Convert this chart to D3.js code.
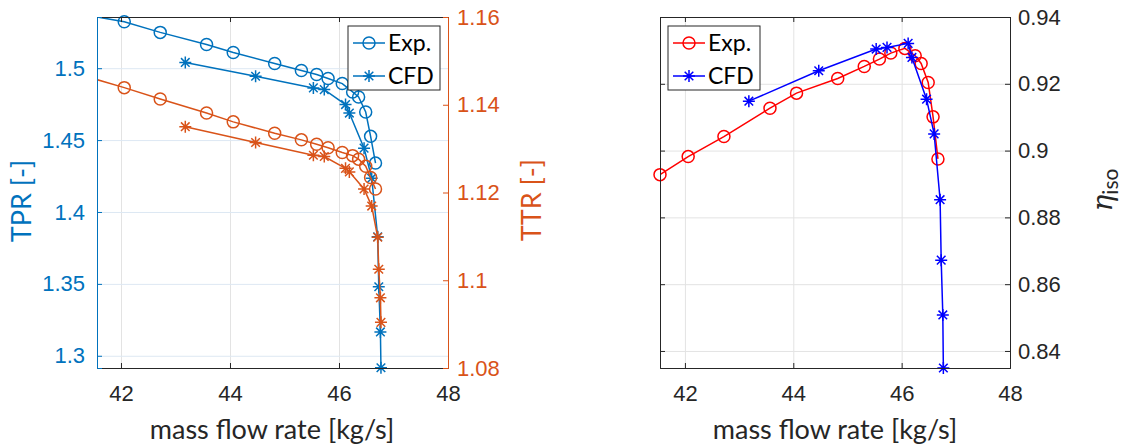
<!DOCTYPE html>
<html>
<head>
<meta charset="utf-8">
<script src="https://cdn.jsdelivr.net/npm/d3@7"></script>
<style>
  body { margin: 0; background: #fff; }
  svg { font-family: Lato, "Open Sans", sans-serif; }
</style>
</head>
<body>
<svg id="chart" width="1124" height="448"></svg>
<script>
// data
const xExp = [41.54, 42.06, 42.72, 43.57, 44.06, 44.82, 45.31, 45.59, 45.80, 46.06, 46.25, 46.36, 46.49, 46.58, 46.67];
const tprExp = [1.5358, 1.5323, 1.5249, 1.5165, 1.5109, 1.5033, 1.4984, 1.4956, 1.4928, 1.4893, 1.4835, 1.4800, 1.4695, 1.4526, 1.4340];
const ttrExp = [1.1458, 1.1439, 1.1413, 1.1381, 1.1361, 1.1335, 1.1320, 1.1310, 1.1302, 1.1291, 1.1284, 1.1276, 1.1260, 1.1234, 1.1208];
const etaExp = [0.8928, 0.8982, 0.9042, 0.9127, 0.9172, 0.9216, 0.9252, 0.9274, 0.9292, 0.9306, 0.9284, 0.9261, 0.9204, 0.9101, 0.8975];

const xCfd = [43.18, 44.47, 45.53, 45.73, 46.12, 46.19, 46.46, 46.60, 46.71, 46.73, 46.76, 46.77];
const tprCfd = [1.5040, 1.4944, 1.4863, 1.4851, 1.4747, 1.4688, 1.4444, 1.4235, 1.3828, 1.3480, 1.3166, 1.2917];
const ttrCfd = [1.1350, 1.1314, 1.1285, 1.1282, 1.1255, 1.1247, 1.1208, 1.1169, 1.1098, 1.1025, 1.0960, 1.0904];
const etaCfd = [0.9148, 0.9239, 0.9304, 0.9309, 0.9321, 0.9279, 0.9154, 0.9050, 0.8853, 0.8672, 0.8508, 0.8349];

const xTicks = [42, 44, 46, 48];
const tprTicks = [1.3, 1.35, 1.4, 1.45, 1.5];
const ttrTicks = [1.08, 1.1, 1.12, 1.14, 1.16];
const etaTicks = [0.84, 0.86, 0.88, 0.9, 0.92, 0.94];
const legendLabels = ["Exp.", "CFD"];

const blue = "#0072BD", orange = "#D95319", axisGray = "#262626";
const plotTop = 17, plotBottom = 368;
const tickFont = 22, labelFont = 27;
const fmt = d3.format("~g");

let svg = d3.select("#chart");

// left panel limits start just right of the first measured point, right panel on it
let xLeft = d3.scaleLinear().domain([41.56, 48]).range([97, 448]);
let xRight = d3.scaleLinear().domain([41.54, 48]).range([660, 1010]);
let yTpr = d3.scaleLinear().domain([1.2915, 1.5356]).range([plotBottom, plotTop]);
let yTtr = d3.scaleLinear().domain([1.08, 1.16]).range([plotBottom, plotTop]);
let yEta = d3.scaleLinear().domain([0.8349, 0.94]).range([plotBottom, plotTop]);

let star = "M-6,0H6M0,-6V6M-4.3,-4.3L4.3,4.3M-4.3,4.3L4.3,-4.3";

function clip(id, x0, x1) {
    svg.append("clipPath").attr("id", id)
        .append("rect").attr("x", x0).attr("y", plotTop)
        .attr("width", x1 - x0).attr("height", plotBottom - plotTop);
}

function grid(g, xs, ys, ticksX, ticksY, hColor) {
    g.append("g").attr("transform", "translate(0," + plotBottom + ")")
        .call(d3.axisBottom(xs).tickValues(ticksX).tickSize(-(plotBottom - plotTop)).tickFormat(""))
        .call(a => a.select(".domain").remove())
        .selectAll("line").attr("stroke", "#e3e3e3");
    g.append("g").attr("transform", "translate(" + xs.range()[0] + ",0)")
        .call(d3.axisLeft(ys).tickValues(ticksY).tickSize(-(xs.range()[1] - xs.range()[0])).tickFormat(""))
        .call(a => a.select(".domain").remove())
        .selectAll("line").attr("stroke", hColor);
}

function series(g, xs, ys, xv, yv, color, marker, clipId) {
    let pts = xv.map((d, i) => [d, yv[i]]);
    g.append("path")
        .attr("clip-path", "url(#" + clipId + ")")
        .attr("d", d3.line().x(d => xs(d[0])).y(d => ys(d[1]))(pts))
        .attr("fill", "none").attr("stroke", color).attr("stroke-width", 1.5);
    // markers whose centre falls outside the limits are not drawn
    let dy = ys.domain(), dx = xs.domain();
    let inside = pts.filter(d => d[1] >= dy[0] - 1e-6 && d[1] <= dy[1] + 1e-6
        && d[0] >= dx[0] - 1e-6 && d[0] <= dx[1] + 1e-6);
    let m = g.append("g").selectAll("g").data(inside).join("g")
        .attr("transform", d => "translate(" + xs(d[0]) + "," + ys(d[1]) + ")");
    if (marker == "o") {
        m.append("circle").attr("r", 6).attr("fill", "none")
            .attr("stroke", color).attr("stroke-width", 1.5);
    } else {
        m.append("path").attr("d", star).attr("fill", "none")
            .attr("stroke", color).attr("stroke-width", 1.5);
    }
}

function styleAxis(a, color) {
    a.select(".domain").attr("stroke", color).attr("stroke-width", 1);
    a.selectAll(".tick line").attr("stroke", color);
    a.selectAll("text").attr("fill", color).attr("font-size", tickFont).attr("font-family", null);
}

function legend(g, x0, y0, colors, markers) {
    g.append("rect").attr("x", x0).attr("y", y0).attr("width", 92).attr("height", 64)
        .attr("fill", "#fff").attr("stroke", axisGray).attr("stroke-width", 1);
    legendLabels.forEach((lab, i) => {
        let cy = y0 + 17 + i * 33;
        g.append("line").attr("x1", x0 + 5).attr("x2", x0 + 37).attr("y1", cy).attr("y2", cy)
            .attr("stroke", colors[i]).attr("stroke-width", 1.5);
        let mk = g.append("g").attr("transform", "translate(" + (x0 + 21) + "," + cy + ")");
        if (markers[i] == "o") mk.append("circle").attr("r", 6).attr("fill", "none").attr("stroke", colors[i]).attr("stroke-width", 1.5);
        else mk.append("path").attr("d", star).attr("fill", "none").attr("stroke", colors[i]).attr("stroke-width", 1.5);
        g.append("text").attr("x", x0 + 40).attr("y", cy).attr("dy", "0.36em")
            .attr("font-size", 23).attr("fill", "#000").text(lab);
    });
}

// ---------- left panel ----------
clip("clipL", 97, 448);
let left = svg.append("g");
grid(left, xLeft, yTpr, [42, 44, 46], tprTicks, "#dde8f3");

series(left, xLeft, yTpr, xExp, tprExp, blue, "o", "clipL");
series(left, xLeft, yTpr, xCfd, tprCfd, blue, "*", "clipL");
series(left, xLeft, yTtr, xExp, ttrExp, orange, "o", "clipL");
series(left, xLeft, yTtr, xCfd, ttrCfd, orange, "*", "clipL");

left.append("g").attr("transform", "translate(0," + plotTop + ")")
    .call(d3.axisTop(xLeft).tickValues(xTicks).tickSize(-5).tickFormat(""))
    .call(a => styleAxis(a, axisGray));
left.append("g").attr("transform", "translate(0," + plotBottom + ")")
    .call(d3.axisBottom(xLeft).tickValues(xTicks).tickSize(-5).tickPadding(17).tickFormat(fmt))
    .call(a => styleAxis(a, axisGray));
left.append("g").attr("transform", "translate(97,0)")
    .call(d3.axisLeft(yTpr).tickValues(tprTicks).tickSize(-5).tickPadding(12).tickFormat(fmt))
    .call(a => styleAxis(a, blue));
left.append("g").attr("transform", "translate(448,0)")
    .call(d3.axisRight(yTtr).tickValues(ttrTicks).tickSize(-5).tickPadding(9).tickFormat(fmt))
    .call(a => styleAxis(a, orange));

legend(left, 348, 26, [blue, blue], ["o", "*"]);

left.append("text").attr("transform", "translate(31,201) rotate(-90)")
    .attr("text-anchor", "middle").attr("font-size", labelFont).attr("fill", blue).text("TPR [-]");
left.append("text").attr("transform", "translate(541,200) rotate(-90)")
    .attr("text-anchor", "middle").attr("font-size", labelFont).attr("fill", orange).text("TTR [-]");
left.append("text").attr("x", 272).attr("y", 439)
    .attr("text-anchor", "middle").attr("font-size", labelFont).attr("fill", axisGray).text("mass flow rate [kg/s]");

// ---------- right panel ----------
clip("clipR", 660, 1010);
let right = svg.append("g");
grid(right, xRight, yEta, [42, 44, 46], etaTicks, "#e3e3e3");

series(right, xRight, yEta, xExp, etaExp, "#ff0000", "o", "clipR");
series(right, xRight, yEta, xCfd, etaCfd, "#0000ff", "*", "clipR");

right.append("g").attr("transform", "translate(0," + plotTop + ")")
    .call(d3.axisTop(xRight).tickValues(xTicks).tickSize(-5).tickFormat(""))
    .call(a => styleAxis(a, axisGray));
right.append("g").attr("transform", "translate(0," + plotBottom + ")")
    .call(d3.axisBottom(xRight).tickValues(xTicks).tickSize(-5).tickPadding(17).tickFormat(fmt))
    .call(a => styleAxis(a, axisGray));
right.append("g").attr("transform", "translate(660,0)")
    .call(d3.axisLeft(yEta).tickValues(etaTicks).tickSize(-5).tickFormat(""))
    .call(a => styleAxis(a, axisGray));
right.append("g").attr("transform", "translate(1010,0)")
    .call(d3.axisRight(yEta).tickValues(etaTicks).tickSize(-5).tickPadding(8).tickFormat(fmt))
    .call(a => styleAxis(a, axisGray));

legend(right, 668, 26, ["#ff0000", "#0000ff"], ["o", "*"]);

let eta = right.append("text").attr("transform", "translate(1112,190) rotate(-90)")
    .attr("text-anchor", "middle").attr("font-size", 28).attr("fill", axisGray);
eta.append("tspan").attr("font-style", "italic").attr("font-family", "DejaVu Serif").text("η");
eta.append("tspan").attr("font-size", 21).attr("dy", 6).text("iso");
right.append("text").attr("x", 835).attr("y", 439)
    .attr("text-anchor", "middle").attr("font-size", labelFont).attr("fill", axisGray).text("mass flow rate [kg/s]");
</script>
</body>
</html>
